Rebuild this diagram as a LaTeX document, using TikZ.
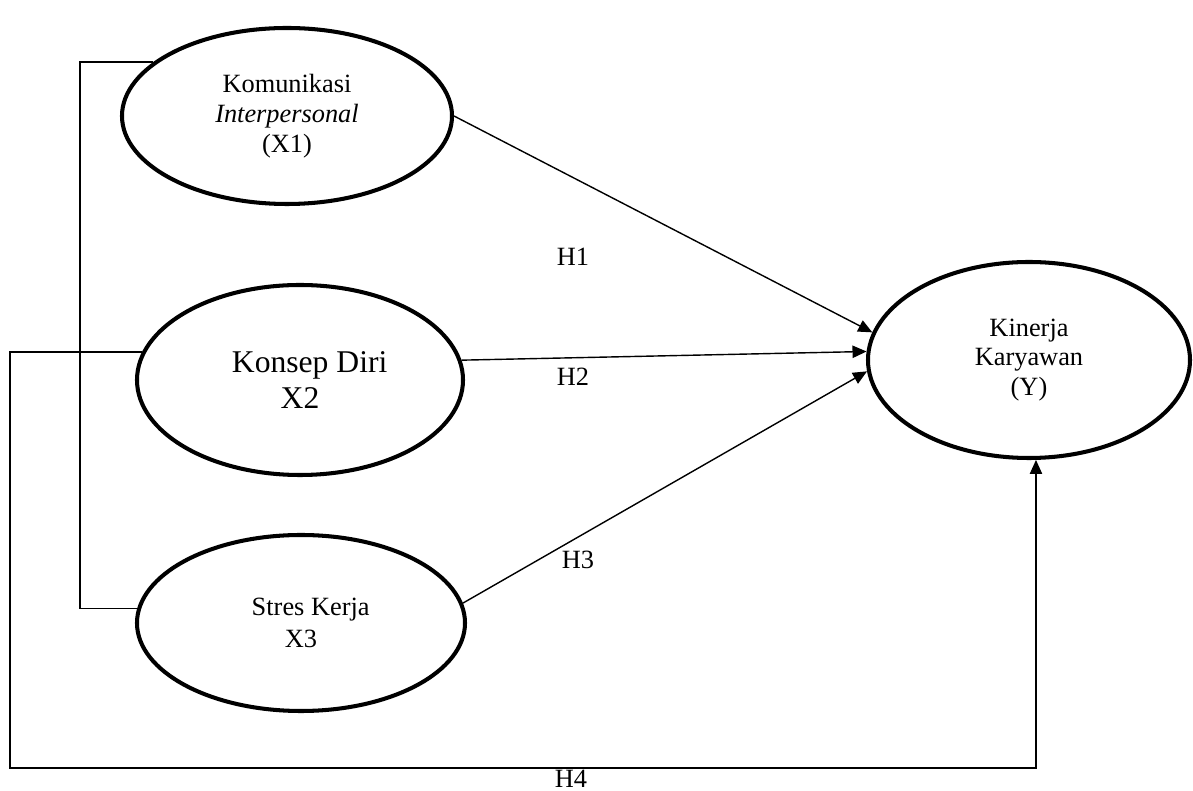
\documentclass[tikz,border=0pt]{standalone}
\usepackage{fontspec}
\setmainfont{Liberation Serif}
\usetikzlibrary{shapes.geometric, arrows.meta}

\tikzset{
  var/.style={draw, ellipse, line width=2.3pt, inner sep=0pt, align=center,
    font=\fontsize{15}{17}\selectfont},
  link/.style={line width=0.8pt},
  arr/.style={link, -{Triangle[length=8pt,width=7pt]}},
  lbl/.style={font=\fontsize{15}{17}\selectfont, inner sep=1pt}
}

\begin{document}
\begin{tikzpicture}[x=0.2mm, y=-0.2mm]
    \useasboundingbox (0,0) rectangle (1193,791);

    % Variabel
    \node[var, minimum width=66mm, minimum height=35.2mm] (kom) at (287,116)
        {Komunikasi\\\textit{Interpersonal}\\(X1)};
    \node[var, minimum width=65.2mm, minimum height=38mm,
          font=\fontsize{18}{20}\selectfont] (kon) at (300,380)
        {\hspace*{11pt}Konsep Diri\\X2};
    \node[var, minimum width=65.6mm, minimum height=35.2mm,
          font=\fontsize{15}{18}\selectfont] (str) at (301,623)
        {\hspace*{11pt}Stres Kerja\\X3};
    \node[var, minimum width=64.4mm, minimum height=39.2mm] (kin) at (1029,360)
        {Kinerja\\Karyawan\\(Y)};

    % Hipotesis
    \draw[arr] (kom.0) -- (kin.170);
    \draw[arr] (kon.7) -- (kin.177);
    \draw[arr] (str.7) -- (kin.184);

    % Korelasi X1 - X3
    \coordinate (kiri) at (80,0);
    \draw[link] (kom.158) -- (kom.158 -| kiri) |- (str.175);

    % Simultan (H4)
    \coordinate (bawah) at (10,768);
    \draw[arr] (kon.170) -| (bawah) -| (kin.-86);

    % Label
    \node[lbl] (h1) at (573,257) {H1};
    \node[lbl] (h2) at (573,377) {H2};
    \node[lbl] (h3) at (578,560) {H3};
    \node[lbl] (h4) at (571,779) {H4};
\end{tikzpicture}
\end{document}
